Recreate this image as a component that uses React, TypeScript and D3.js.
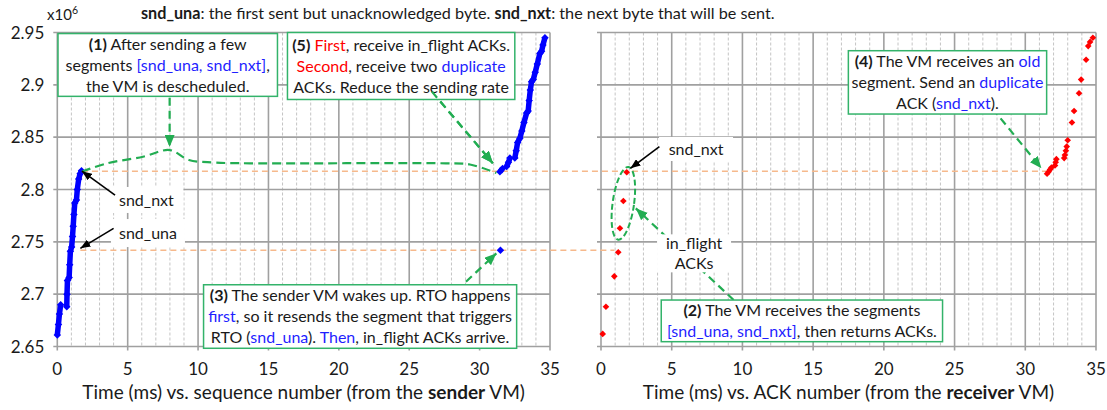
import React from "react";
import * as d3 from "d3";

type Pt = [number, number];
type Seg = { t: string; s?: "b" | "blue" | "red" };

// ---- data (time in ms, sequence / ACK number in x10^6) ----
const X_TICKS = [0, 5, 10, 15, 20, 25, 30, 35];
const Y_TICKS = [2.65, 2.7, 2.75, 2.8, 2.85, 2.9, 2.95];

// sender VM: sequence numbers
const SENDER_BURST_A: Pt[] = [[0.0, 2.661], [0.08, 2.671], [0.15, 2.681], [0.24, 2.69]];
const SENDER_BURST_B: Pt[] = [
  [0.67, 2.688], [0.69, 2.7], [0.72, 2.713], [0.84, 2.716], [0.88, 2.728], [0.93, 2.741],
  [1.02, 2.745], [1.08, 2.755], [1.13, 2.765], [1.18, 2.776], [1.24, 2.787], [1.36, 2.79],
  [1.42, 2.8], [1.52, 2.81], [1.62, 2.815], [1.72, 2.818],
];
const SENDER_RTO: Pt[] = [[31.48, 2.742]];
const SENDER_RESUME_A: Pt[] = [[31.44, 2.817], [31.63, 2.82]];
const SENDER_RESUME_B: Pt[] = [[31.92, 2.822], [32.05, 2.826], [32.15, 2.83]];
const SENDER_RESUME_C: Pt[] = [
  [32.5, 2.83], [32.6, 2.837], [32.7, 2.845], [32.86, 2.849], [33.0, 2.856], [33.15, 2.864],
  [33.34, 2.873], [33.45, 2.875], [33.52, 2.885], [33.6, 2.895], [33.69, 2.903], [33.81, 2.905],
  [33.95, 2.912], [34.1, 2.92], [34.28, 2.93], [34.4, 2.932], [34.5, 2.938], [34.64, 2.945],
];

// receiver VM: ACK numbers
const RECEIVER_ACKS: Pt[] = [
  [0.12, 2.662], [0.35, 2.688], [0.94, 2.717], [1.22, 2.74], [1.34, 2.763], [1.58, 2.789],
  [1.82, 2.8165], [31.54, 2.815], [31.65, 2.817], [31.75, 2.819], [31.85, 2.821], [32.1, 2.823],
  [32.15, 2.826], [32.2, 2.829], [32.75, 2.83], [32.8, 2.833], [32.87, 2.837], [32.93, 2.841],
  [33.0, 2.847], [33.3, 2.864], [33.45, 2.875], [33.8, 2.892], [33.95, 2.905], [34.3, 2.924],
  [34.45, 2.937], [34.58, 2.941], [34.78, 2.945],
];

// ---- text ----
const TITLE: Seg[] = [
  { t: "snd_una", s: "b" },
  { t: ": the first sent but unacknowledged byte. " },
  { t: "snd_nxt", s: "b" },
  { t: ": the next byte that will be sent." },
];
const X_TITLE_LEFT: Seg[] = [{ t: "Time (ms) vs. sequence number (from the " }, { t: "sender", s: "b" }, { t: " VM)" }];
const X_TITLE_RIGHT: Seg[] = [{ t: "Time (ms) vs. ACK number (from the " }, { t: "receiver", s: "b" }, { t: " VM)" }];

const NOTE_1: Seg[][] = [
  [{ t: "(1)", s: "b" }, { t: " After sending a few" }],
  [{ t: "segments " }, { t: "[snd_una, snd_nxt]", s: "blue" }, { t: "," }],
  [{ t: "the VM is descheduled." }],
];
const NOTE_5: Seg[][] = [
  [{ t: "(5)", s: "b" }, { t: " " }, { t: "First", s: "red" }, { t: ", receive in_flight ACKs." }],
  [{ t: "Second", s: "red" }, { t: ", receive two " }, { t: "duplicate", s: "blue" }],
  [{ t: "ACKs. Reduce the sending rate" }],
];
const NOTE_3: Seg[][] = [
  [{ t: "(3)", s: "b" }, { t: " The sender VM wakes up. RTO happens" }],
  [{ t: "first", s: "blue" }, { t: ", so it resends the segment that triggers" }],
  [{ t: "RTO (" }, { t: "snd_una", s: "blue" }, { t: "). " }, { t: "Then", s: "blue" }, { t: ", in_flight ACKs arrive." }],
];
const NOTE_4: Seg[][] = [
  [{ t: "(4)", s: "b" }, { t: " The VM receives an " }, { t: "old", s: "blue" }],
  [{ t: "segment. Send an " }, { t: "duplicate", s: "blue" }],
  [{ t: "ACK (" }, { t: "snd_nxt", s: "blue" }, { t: ")." }],
];
const NOTE_2: Seg[][] = [
  [{ t: "(2)", s: "b" }, { t: " The VM receives the segments" }],
  [{ t: "[snd_una, snd_nxt]", s: "blue" }, { t: ", then returns ACKs." }],
];

// ---- layout (data units) ----
const BOXES = [
  { panel: "L", t0: 0.05, t1: 15.64, v0: 2.949, v1: 2.889, lines: NOTE_1 },
  { panel: "L", t0: 16.35, t1: 32.5, v0: 2.95, v1: 2.886, lines: NOTE_5 },
  { panel: "L", t0: 10.39, t1: 32.63, v0: 2.709, v1: 2.6483, lines: NOTE_3 },
  { panel: "R", t0: 17.49, t1: 31.51, v0: 2.9326, v1: 2.8721, lines: NOTE_4 },
  { panel: "R", t0: 4.26, t1: 24.15, v0: 2.6944, v1: 2.6546, lines: NOTE_2 },
];
const LABELS = [
  { panel: "L", t: 6.33, v: 2.79, w: 74, h: 26, lines: ["snd_nxt"] },
  { panel: "L", t: 6.44, v: 2.7584, w: 74, h: 28, lines: ["snd_una"] },
  { panel: "R", t: 6.72, v: 2.8387, w: 74, h: 24, lines: ["snd_nxt"] },
  { panel: "R", t: 6.58, v: 2.739, w: 74, h: 38, lines: ["in_flight", "ACKs"] },
];
const BLACK_ARROWS = [
  { panel: "L", from: [4.1, 2.7947], to: [1.75, 2.8175] },
  { panel: "L", from: [4.0, 2.7629], to: [1.64, 2.7438] },
  { panel: "R", from: [4.13, 2.8409], to: [2.08, 2.8202] },
];
const GREEN_ARROWS = [
  { panel: "L", from: [7.98, 2.8877], to: [7.98, 2.8406] },
  { panel: "L", from: [26.61, 2.8935], to: [30.94, 2.8251] },
  { panel: "L", from: [29.03, 2.7119], to: [31.19, 2.739] },
  { panel: "R", from: [27.67, 2.8776], to: [31.14, 2.8202] },
  { panel: "R", from: [9.38, 2.6944], to: [2.46, 2.782] },
];
const BRACE: Pt[] = [
  [1.75, 2.817], [3.53, 2.825], [6.09, 2.8313], [7.98, 2.8377], [9.35, 2.8282], [11.13, 2.8258],
  [13.69, 2.825], [27.6, 2.825], [29.31, 2.8239], [31.19, 2.8158],
];
const ELLIPSE = { t: 1.58, v: 2.7868, rx: 10.7, ry: 36.7, rot: 8 };
const ORANGE_LINES = [
  { from: [1.75, 2.8175], to: [31.5, 2.8175] },
  { from: [1.64, 2.742], to: [0.95, 2.742] },
];

const FONT = "Lato, 'Open Sans', sans-serif";
const C = {
  blue: "#0000ff",
  red: "#ff0000",
  textBlue: "#1f1fff",
  green: "#22ad52",
  boxGreen: "#33b36a",
  major: "#a0a0a0",
  minor: "#c4c4c4",
  orange: "#f6b98c",
  text: "#1a1a1a",
};

const W = 1107;
const H = 410;

const xL = d3.scaleLinear().domain([0, 35]).range([57.3, 550]);
const xR = d3.scaleLinear().domain([0, 35]).range([601, 1096]);
const y = d3.scaleLinear().domain([2.65, 2.95]).range([346.5, 32.5]);
const px = (p: string) => (p === "L" ? xL : xR);

const diamond = {
  draw(ctx: any, size: number) {
    const r = Math.sqrt(size / 2);
    ctx.moveTo(0, -r);
    ctx.lineTo(r, 0);
    ctx.lineTo(0, r);
    ctx.lineTo(-r, 0);
    ctx.closePath();
  },
};
const blueMark = d3.symbol(diamond as any, 28)() as string;
const redMark = d3.symbol(diamond as any, 22)() as string;

function Spans({ segs }: { segs: Seg[] }) {
  return (
    <>
      {segs.map((s, i) => (
        <tspan
          key={i}
          fontWeight={s.s === "b" ? 700 : 400}
          fill={s.s === "blue" ? C.textBlue : s.s === "red" ? C.red : C.text}
        >
          {s.t}
        </tspan>
      ))}
    </>
  );
}

function Panel({ x, yLabels }: { x: d3.ScaleLinear<number, number>; yLabels: boolean }) {
  const minor = x.ticks(35).filter((t) => t % 5 !== 0);
  const [x0, x1] = x.range();
  const [yb, yt] = y.range();
  return (
    <g>
      {minor.map((t) => (
        <line key={t} x1={x(t)} x2={x(t)} y1={yt} y2={yb} stroke={C.minor} strokeWidth={1} strokeDasharray="3,2" />
      ))}
      {Y_TICKS.map((v) => (
        <line key={v} x1={x0 - 4} x2={x1} y1={y(v)} y2={y(v)} stroke={C.major} strokeWidth={1.6} />
      ))}
      {X_TICKS.map((t) => (
        <line key={t} x1={x(t)} x2={x(t)} y1={yt} y2={yb + 4} stroke={C.major} strokeWidth={1.6} />
      ))}
      {X_TICKS.map((t) => (
        <text key={t} x={x(t)} y={375} textAnchor="middle" fontSize={17} fill={C.text}>
          {t}
        </text>
      ))}
      {yLabels &&
        Y_TICKS.map((v) => (
          <text key={v} x={x0 - 13} y={y(v)} dy="0.36em" textAnchor="end" fontSize={17} fill={C.text}>
            {String(v)}
          </text>
        ))}
    </g>
  );
}

export default function App() {
  const line = d3.line<Pt>().x((d) => xL(d[0])).y((d) => y(d[1]));
  const brace = d3
    .line<Pt>()
    .x((d) => xL(d[0]))
    .y((d) => y(d[1]))
    .curve(d3.curveCatmullRom.alpha(0.5));
  const senderLines = [SENDER_BURST_A, SENDER_BURST_B, SENDER_RESUME_A, SENDER_RESUME_B, SENDER_RESUME_C];
  const senderPts = [...senderLines.flat(), ...SENDER_RTO];
  const lh = 20.8;
  const fs = 16;

  return (
    <div style={{ position: "absolute", left: 0, top: 0 }}>
      <svg width={W} height={H} fontFamily={FONT} style={{ display: "block", background: "#fff" }}>
        <defs>
          <marker id="ahBlack" viewBox="0 0 10 8" refX={10} refY={4} markerWidth={10} markerHeight={8} markerUnits="userSpaceOnUse" orient="auto">
            <path d="M0,0L10,4L0,8Z" fill="#000" />
          </marker>
          <marker id="ahGreen" viewBox="0 0 12 10" refX={12} refY={5} markerWidth={12} markerHeight={10} markerUnits="userSpaceOnUse" orient="auto">
            <path d="M0,0L12,5L0,10Z" fill={C.green} />
          </marker>
        </defs>

        <Panel x={xL} yLabels={true} />
        <Panel x={xR} yLabels={false} />

        {/* orange reference lines */}
        {ORANGE_LINES.map((o, i) => (
          <line
            key={i}
            x1={xL(o.from[0])}
            x2={xR(o.to[0])}
            y1={y(o.from[1])}
            y2={y(o.to[1])}
            stroke={C.orange}
            strokeWidth={1.5}
            strokeDasharray="6,4"
          />
        ))}

        {/* sender series */}
        {senderLines.map((s, i) => (
          <path key={i} d={line(s) ?? ""} fill="none" stroke={C.blue} strokeWidth={5.5} strokeLinejoin="round" />
        ))}
        {senderPts.map((d, i) => (
          <path key={i} d={blueMark} transform={`translate(${xL(d[0])},${y(d[1])})`} fill={C.blue} />
        ))}

        {/* receiver series */}
        {RECEIVER_ACKS.map((d, i) => (
          <path key={i} d={redMark} transform={`translate(${xR(d[0])},${y(d[1])})`} fill={C.red} />
        ))}

        {/* brace + ellipse */}
        <path d={brace(BRACE) ?? ""} fill="none" stroke={C.green} strokeWidth={2.2} strokeDasharray="9,5" />
        <ellipse
          cx={0}
          cy={0}
          rx={ELLIPSE.rx}
          ry={ELLIPSE.ry}
          transform={`translate(${xR(ELLIPSE.t)},${y(ELLIPSE.v)}) rotate(${ELLIPSE.rot})`}
          fill="none"
          stroke={C.green}
          strokeWidth={2}
          strokeDasharray="6,3"
        />

        {/* green arrows */}
        {GREEN_ARROWS.map((a, i) => (
          <line
            key={i}
            x1={px(a.panel)(a.from[0])}
            y1={y(a.from[1])}
            x2={px(a.panel)(a.to[0])}
            y2={y(a.to[1])}
            stroke={C.green}
            strokeWidth={2.2}
            strokeDasharray="8,5"
            markerEnd="url(#ahGreen)"
          />
        ))}

        {/* labels with white background */}
        {LABELS.map((l, i) => {
          const cx = px(l.panel)(l.t);
          const cy = y(l.v);
          return (
            <g key={i}>
              <rect x={cx - l.w / 2} y={cy - l.h / 2} width={l.w} height={l.h} fill="#fff" />
              {l.lines.map((s, j) => (
                <text
                  key={j}
                  x={cx}
                  y={cy + (j - (l.lines.length - 1) / 2) * 20}
                  dy="0.35em"
                  textAnchor="middle"
                  fontSize={fs}
                  fill={C.text}
                >
                  {s}
                </text>
              ))}
            </g>
          );
        })}

        {/* black arrows */}
        {BLACK_ARROWS.map((a, i) => (
          <line
            key={i}
            x1={px(a.panel)(a.from[0])}
            y1={y(a.from[1])}
            x2={px(a.panel)(a.to[0])}
            y2={y(a.to[1])}
            stroke="#000"
            strokeWidth={1.6}
            markerEnd="url(#ahBlack)"
          />
        ))}

        {/* annotation boxes */}
        {BOXES.map((b, i) => {
          const sx = px(b.panel);
          const bx = sx(b.t0);
          const bw = sx(b.t1) - bx;
          const by = y(b.v0);
          const bh = y(b.v1) - by;
          const first = by + (bh - b.lines.length * lh) / 2 + lh / 2;
          return (
            <g key={i}>
              <rect x={bx} y={by} width={bw} height={bh} fill="#fff" stroke={C.boxGreen} strokeWidth={1.5} />
              {b.lines.map((segs, j) => (
                <text key={j} x={bx + bw / 2} y={first + j * lh} dy="0.36em" textAnchor="middle" fontSize={fs}>
                  <Spans segs={segs} />
                </text>
              ))}
            </g>
          );
        })}
        {/* arrow from box (5) sits on top of its box */}
        <line
          x1={xL(GREEN_ARROWS[1].from[0])}
          y1={y(GREEN_ARROWS[1].from[1])}
          x2={xL(GREEN_ARROWS[1].to[0])}
          y2={y(GREEN_ARROWS[1].to[1])}
          stroke={C.green}
          strokeWidth={2.2}
          strokeDasharray="8,5"
          markerEnd="url(#ahGreen)"
        />

        {/* titles */}
        <text x={141} y={19} fontSize={16.2}>
          <Spans segs={TITLE} />
        </text>
        <text x={47} y={20} fontSize={15} fill={C.text}>
          x10
          <tspan fontSize={10.5} dy={-6}>
            6
          </tspan>
        </text>
        <text x={d3.mean(xL.range())} y={399} textAnchor="middle" fontSize={19}>
          <Spans segs={X_TITLE_LEFT} />
        </text>
        <text x={d3.mean(xR.range())} y={399} textAnchor="middle" fontSize={19}>
          <Spans segs={X_TITLE_RIGHT} />
        </text>
      </svg>
    </div>
  );
}
